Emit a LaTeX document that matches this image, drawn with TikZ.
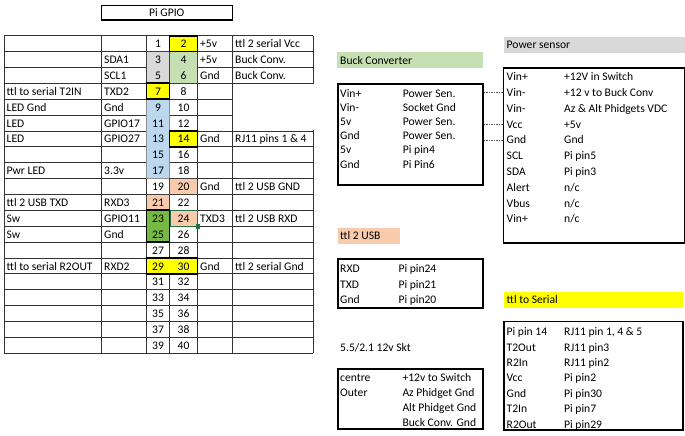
\documentclass[tikz,border=0pt]{standalone}
\usepackage{fontspec}
\setmainfont{Carlito}
\definecolor{cgray}{RGB}{217,217,217}
\definecolor{cgreenl}{RGB}{198,224,180}
\definecolor{cblue}{RGB}{189,215,238}
\definecolor{cpeach}{RGB}{248,203,173}
\definecolor{cgreen}{RGB}{118,184,66}
\definecolor{cyellow}{RGB}{255,255,0}
\definecolor{selgreen}{RGB}{33,115,70}
\begin{document}
\begin{tikzpicture}[x=1pt,y=-1pt,
  every node/.style={font=\fontsize{11.6}{13}\selectfont, inner sep=0pt},
  lt/.style={anchor=base west},
  ct/.style={anchor=base},
  gridline/.style={draw=black!80, line width=0.9pt},
  cellbox/.style={draw=black!75, line width=0.8pt},
  hotbox/.style={draw=black, line width=1.8pt},
  panel/.style={draw=black, line width=1.6pt, anchor=north west},
  labelbar/.style={anchor=north west, minimum height=16pt},
  conn/.style={dashed, dash pattern=on 1.5pt off 1pt, draw=black!65, line width=0.6pt}]
\useasboundingbox (0,0) rectangle (685,436);
\def\cA{4}\def\cB{101.5}\def\cC{146.5}\def\cD{169.5}\def\cE{197.5}\def\cF{232.5}\def\cG{313}
\def\T{35.7}\def\H{15.88}
% title
\node[draw=black, line width=1.2pt, minimum width=131pt, minimum height=14.5pt, anchor=north west] (title) at (100.7,5) {Pi GPIO};
% grid
\foreach \i in {0,...,20} \draw[gridline] (\cA,\T+\i*\H) -- (\cG,\T+\i*\H);
\foreach \x in {\cA,\cB,\cC,\cD,\cE,\cF,\cG} \draw[gridline] (\x,\T) -- (\x,\T+20*\H);
\fill[white] (\cF+0.7,\T+3*\H+0.7) rectangle (\cG+2,\T+6*\H-0.7);
% coloured cells
\draw[cellbox, fill=cgray] (\cC,\T+\H) rectangle (\cD,\T+3*\H);
\draw[cellbox, fill=cgreenl] (\cD,\T+\H) rectangle (\cE,\T+3*\H);
\draw[cellbox, draw=black!45, fill=cblue] (\cC,\T+4*\H) rectangle (\cD,\T+9*\H);
\draw[cellbox, fill=cpeach] (\cD,\T+9*\H) rectangle (\cE,\T+10*\H);
\draw[cellbox, fill=cpeach] (\cC,\T+10*\H) rectangle (\cD,\T+11*\H);
\draw[cellbox, fill=cpeach] (\cD,\T+11*\H) rectangle (\cE,\T+12*\H);
\draw[hotbox, fill=cyellow] (\cD,\T) rectangle (\cE,\T+\H);
\draw[hotbox, fill=cyellow] (\cC,\T+3*\H) rectangle (\cD,\T+4*\H);
\draw[hotbox, fill=cyellow] (\cD,\T+6*\H) rectangle (\cE,\T+7*\H);
\draw[hotbox, fill=cgreen] (\cC,\T+11*\H) rectangle (\cD,\T+13*\H);
\draw[hotbox, fill=cyellow] (\cC,\T+14*\H) rectangle (\cE,\T+15*\H);
\draw[selgreen, line width=1.3pt] (\cD+0.7,\T+11*\H) rectangle (\cE,\T+12*\H);
\fill[selgreen] (\cE-2,\T+12*\H-2) rectangle (\cE+2.5,\T+12*\H+2.5);
% table text
\foreach \r/\a/\b/\e/\f in {
  1/{}/{}/+5v/ttl 2 serial Vcc,
  2/{}/SDA1/+5v/Buck Conv.,
  3/{}/SCL1/Gnd/Buck Conv.,
  4/ttl to serial T2IN/TXD2/{}/{},
  5/LED Gnd/Gnd/{}/{},
  6/LED/GPIO17/{}/{},
  7/LED/GPIO27/Gnd/RJ11 pins 1 \& 4,
  8/{}/{}/{}/{},
  9/Pwr LED/3.3v/{}/{},
  10/{}/{}/Gnd/ttl 2 USB GND,
  11/ttl 2 USB TXD/RXD3/{}/{},
  12/Sw/GPIO11/TXD3/ttl 2 USB RXD,
  13/Sw/Gnd/{}/{},
  14/{}/{}/{}/{},
  15/ttl to serial R2OUT/RXD2/Gnd/ttl 2 serial Gnd,
  16/{}/{}/{}/{},
  17/{}/{}/{}/{},
  18/{}/{}/{}/{},
  19/{}/{}/{}/{},
  20/{}/{}/{}/{}}{
  \pgfmathsetmacro\yb{\T+(\r-1)*\H+12}
  \pgfmathtruncatemacro\po{2*\r-1}
  \pgfmathtruncatemacro\pe{2*\r}
  \node[lt] (a\r) at (\cA+2.5,\yb) {\a};
  \node[lt] (b\r) at (\cB+2.5,\yb) {\b};
  \node[ct] (p\r) at ({(\cC+\cD)/2},\yb) {\po};
  \node[ct] (q\r) at ({(\cD+\cE)/2},\yb) {\pe};
  \node[lt] (e\r) at (\cE+2.5,\yb) {\e};
  \node[lt] (f\r) at (\cF+2.5,\yb) {\f};
}
% Buck converter
\node[labelbar, fill=cgreenl, minimum width=145.6pt] (bucklbl) at (336.7,52.3) {};
\node[lt] (bucktxt) at (340,64) {Buck Converter};
\node[panel, minimum width=145pt, minimum height=100.7pt] (buck) at (337.3,83.3) {};
\foreach \i/\a/\b in {1/Vin+/Power Sen., 2/Vin-/Socket Gnd, 3/5v/Power Sen., 4/Gnd/Power Sen., 5/5v/Pi pin4, 6/Gnd/Pi Pin6}{
  \node[lt] (k\i a) at (340,97+\i*14.2-14.2) {\a};
  \node[lt] (k\i b) at (402.7,97+\i*14.2-14.2) {\b};
}
% Power sensor
\node[labelbar, fill=cgray, minimum width=181pt] (senslbl) at (503.3,36.7) {};
\node[lt] (senstxt) at (506.5,48.5) {Power sensor};
\node[panel, minimum width=181.3pt, minimum height=175pt] (sensor) at (502.7,67.3) {};
\foreach \i/\a/\b in {1/Vin+/+12V in Switch, 2/Vin-/+12 v to Buck Conv, 3/Vin-/Az \& Alt Phidgets VDC, 4/Vcc/+5v, 5/Gnd/Gnd, 6/SCL/Pi pin5, 7/SDA/Pi pin3, 8/Alert/{n/c}, 9/Vbus/{n/c}, 10/Vin+/{n/c}}{
  \node[lt] (s\i a) at (506.5,80.7+\i*15.8-15.8) {\a};
  \node[lt] (s\i b) at (564,80.7+\i*15.8-15.8) {\b};
}
\draw[conn] (buck.east |- s2a.west) -- (sensor.west |- s2a.west);
\draw[conn] (buck.east |- s4a.west) -- (sensor.west |- s4a.west);
\draw[conn] (buck.east |- s5a.west) -- (sensor.west |- s5a.west);
% ttl 2 USB
\node[labelbar, fill=cpeach, minimum width=62.7pt] (usblbl) at (337.3,227.3) {};
\node[lt] (usbtxt) at (340,239) {ttl 2 USB};
\node[panel, minimum width=145pt, minimum height=49pt] (usb) at (337.3,258.3) {};
\foreach \i/\a/\b in {1/RXD/Pi pin24, 2/TXD/Pi pin21, 3/Gnd/Pi pin20}{
  \node[lt] (u\i a) at (340,272.3+\i*15.8-15.8) {\a};
  \node[lt] (u\i b) at (398.3,272.3+\i*15.8-15.8) {\b};
}
% 12v socket
\node[lt] (skttxt) at (340,351.7) {5.5/2.1 12v Skt};
\node[panel, minimum width=145pt, minimum height=60pt] (skt) at (337.3,368.3) {};
\foreach \i/\a/\b in {1/centre/+12v to Switch, 2/Outer/Az Phidget Gnd, 3/{}/Alt Phidget Gnd, 4/{}/Buck Conv. Gnd}{
  \node[lt] (t\i a) at (340,381.7+\i*14.8-14.8) {\a};
  \node[lt] (t\i b) at (402.3,381.7+\i*14.8-14.8) {\b};
}
% ttl to Serial
\node[labelbar, fill=cyellow, minimum width=179pt, minimum height=15.6pt] (serlbl) at (503.3,291.7) {};
\node[lt] (sertxt) at (506.5,303.5) {ttl to Serial};
\node[panel, minimum width=179pt, minimum height=108.6pt] (serial) at (503.3,320.7) {};
\foreach \i/\a/\b in {1/Pi pin 14/{RJ11 pin 1, 4 \& 5}, 2/T2Out/RJ11 pin3, 3/R2In/RJ11 pin2, 4/Vcc/Pi pin2, 5/Gnd/Pi pin30, 6/T2In/Pi pin7, 7/R2Out/Pi pin29}{
  \node[lt] (r\i a) at (506.5,335.7+\i*15.4-15.4) {\a};
  \node[lt] (r\i b) at (564,335.7+\i*15.4-15.4) {\b};
}
\end{tikzpicture}
\end{document}
